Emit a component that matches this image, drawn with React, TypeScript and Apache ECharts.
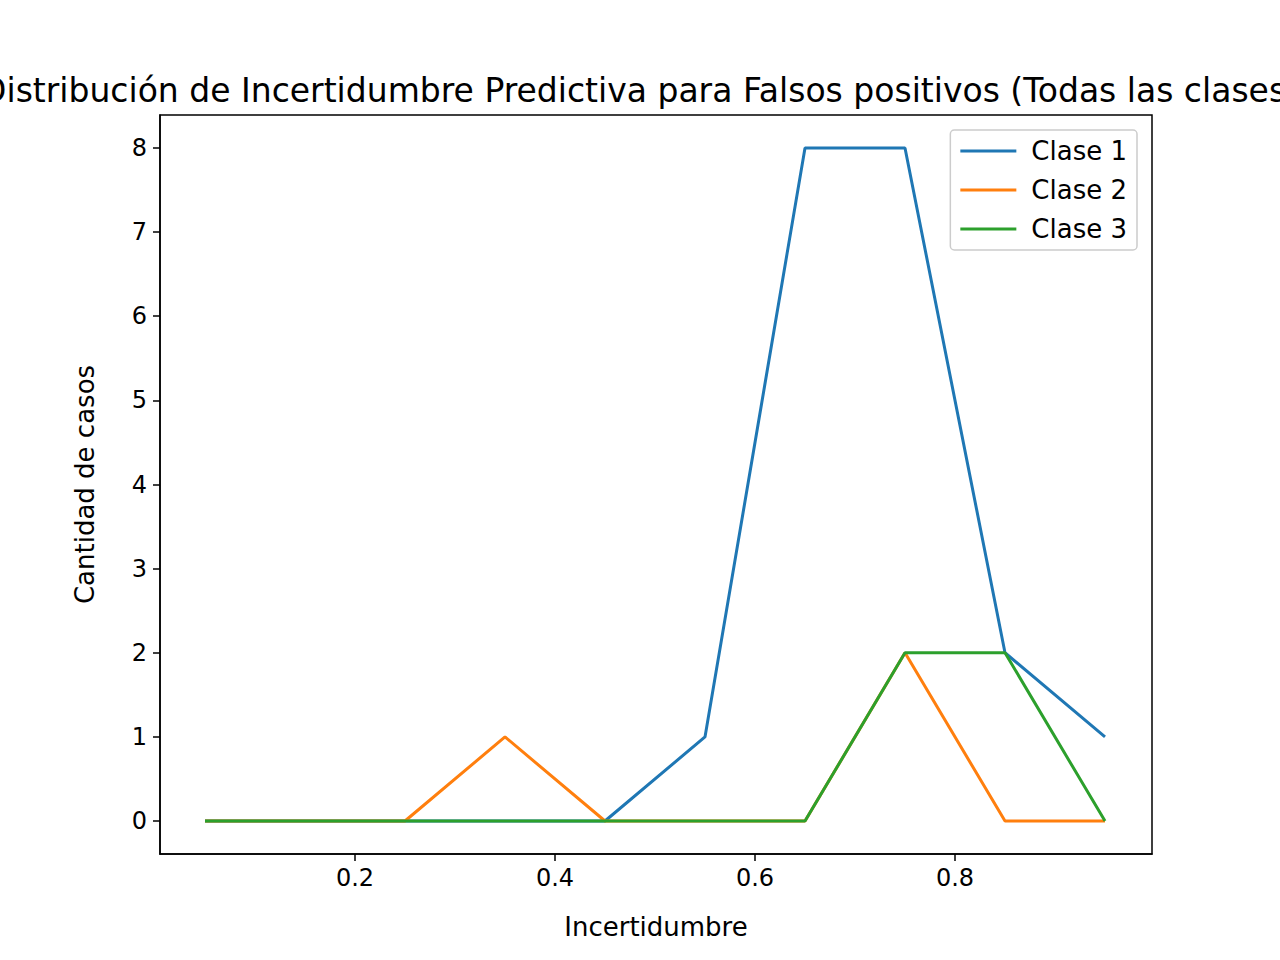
import { useEffect, useRef } from "react";
import * as echarts from "echarts";

const xValues = [0.05, 0.15, 0.25, 0.35, 0.45, 0.55, 0.65, 0.75, 0.85, 0.95];
const clase1 = [0, 0, 0, 0, 0, 1, 8, 8, 2, 1];
const clase2 = [0, 0, 0, 1, 0, 0, 0, 2, 0, 0];
const clase3 = [0, 0, 0, 0, 0, 0, 0, 2, 2, 0];
const xTicks = [0.2, 0.4, 0.6, 0.8];
const yTicks = [0, 1, 2, 3, 4, 5, 6, 7, 8];

const font = "DejaVu Sans";

const App = () => {
  const chartRef = useRef<HTMLDivElement>(null);

  useEffect(() => {
    document.body.style.margin = "0";
    if (!chartRef.current) return;
    const chart = echarts.init(chartRef.current, undefined, { renderer: "svg" });
    const mk = (name: string, vals: number[], color: string) => ({
      name,
      type: "line",
      data: xValues.map((x, i) => [x, vals[i]]),
      showSymbol: false,
      lineStyle: { color, width: 3 },
      itemStyle: { color },
    });
    chart.setOption({
      animation: false,
      backgroundColor: "#fff",
      title: {
        text: "Distribución de Incertidumbre Predictiva para Falsos positivos (Todas las clases)",
        left: "center",
        top: 69,
        textStyle: { fontFamily: font, fontSize: 33, fontWeight: "normal", color: "#000" },
      },
      grid: { left: 160, top: 115, width: 992, height: 739, show: true, borderColor: "#000", borderWidth: 1.5 },
      legend: {
        right: 143,
        top: 130,
        orient: "vertical",
        itemWidth: 56,
        itemHeight: 3,
        itemGap: 13,
        icon: "rect",
        padding: [8, 10, 8, 10],
        borderColor: "#ccc",
        borderWidth: 1.5,
        borderRadius: 4,
        textStyle: { fontFamily: font, fontSize: 26, color: "#000", padding: [0, 0, 0, 10] },
        data: ["Clase 1", "Clase 2", "Clase 3"],
      },
      xAxis: {
        type: "value",
        min: 0.005,
        max: 0.997,
        name: "Incertidumbre",
        nameLocation: "middle",
        nameGap: 60,
        nameTextStyle: { fontFamily: font, fontSize: 26, color: "#000" },
        axisLine: { show: true, onZero: false, lineStyle: { color: "#000", width: 1.5 } },
        axisTick: { show: true, length: 7, customValues: xTicks, lineStyle: { color: "#000", width: 1.5 } },
        axisLabel: { customValues: xTicks, fontFamily: font, fontSize: 24, color: "#000", margin: 12, formatter: (v: number) => v.toFixed(1) },
        splitLine: { show: false },
      },
      yAxis: {
        type: "value",
        min: -0.392,
        max: 8.392,
        name: "Cantidad de casos",
        nameLocation: "middle",
        nameGap: 62,
        nameTextStyle: { fontFamily: font, fontSize: 26, color: "#000" },
        axisLine: { show: true, onZero: false, lineStyle: { color: "#000", width: 1.5 } },
        axisTick: { show: true, length: 7, customValues: yTicks, lineStyle: { color: "#000", width: 1.5 } },
        axisLabel: { customValues: yTicks, fontFamily: font, fontSize: 24, color: "#000", margin: 13 },
        splitLine: { show: false },
      },
      series: [mk("Clase 1", clase1, "#1f77b4"), mk("Clase 2", clase2, "#ff7f0e"), mk("Clase 3", clase3, "#2ca02c")],
    });
    return () => chart.dispose();
  }, []);

  return <div ref={chartRef} style={{ width: 1280, height: 960 }} />;
};

export default App;
